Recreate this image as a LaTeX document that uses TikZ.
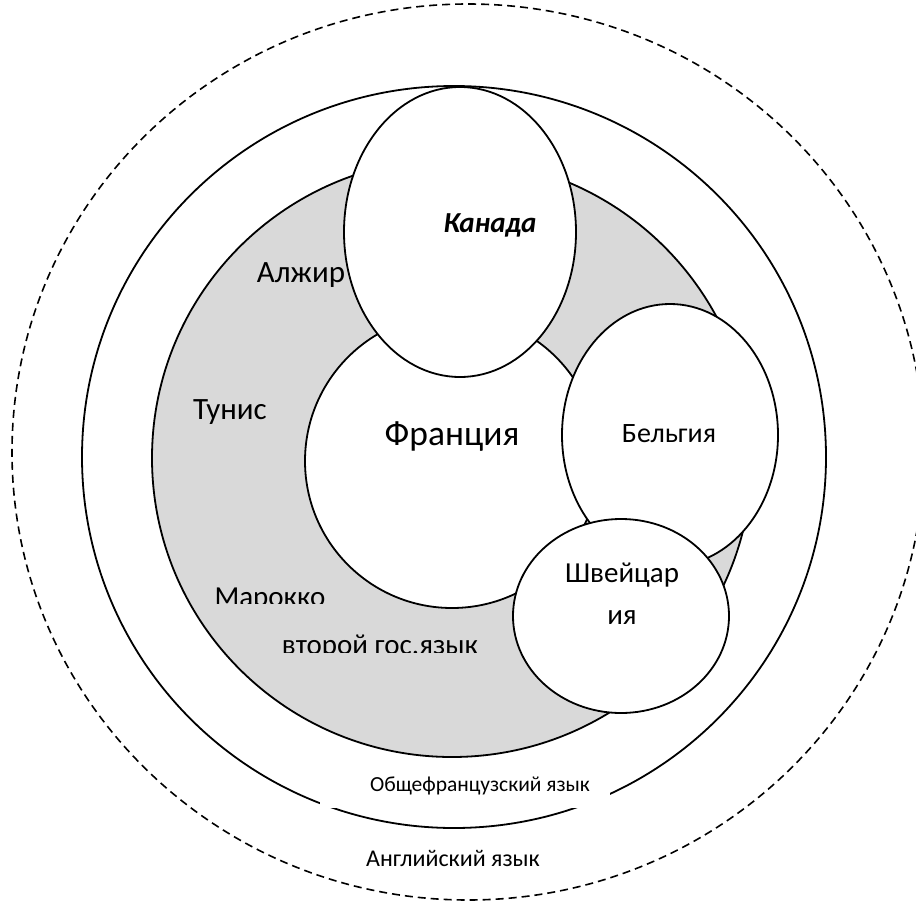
\documentclass[tikz,border=0pt]{standalone}
\usepackage{fontspec}
\setmainfont{Carlito}
\usetikzlibrary{shapes.geometric}
\begin{document}
\begin{tikzpicture}[x=1pt,y=-1pt,
  ring/.style={ellipse,draw=black,line width=1.8pt,inner sep=0pt},
  wring/.style={ring,fill=white},
  lbl/.style={inner sep=0pt,font=\fontsize{29}{31}\selectfont},
  small/.style={inner sep=0pt,font=\fontsize{21.5}{24}\selectfont}]
\useasboundingbox (0,0) rectangle (916,902);
\clip (0,0) rectangle (916,902);
% outer dashed
\node[ellipse,draw=black,line width=1.6pt,dash pattern=on 8pt off 5pt,inner sep=0pt,
  minimum width=912pt,minimum height=896pt] (outer) at (468,452) {};
% solid ring
\node[ring,minimum width=744pt,minimum height=742pt] (mid) at (454,457) {};
% gray ring
\node[ring,fill=black!15,minimum width=600pt,minimum height=598pt] (gray) at (452,458) {};
% France
\node[wring,minimum width=294pt,minimum height=294pt] (fr) at (452,461) {};
% Canada
\node[wring,minimum width=232pt,minimum height=290pt] (ca) at (460,232) {};
% Belgium
\node[wring,minimum width=216pt,minimum height=262pt] (be) at (670,435) {};
% Switzerland
\node[wring,minimum width=216pt,minimum height=194pt] (ch) at (621,616) {};
% labels
\node[lbl,font=\fontsize{29}{31}\selectfont\bfseries\itshape] (tca) at (490,225) {Канада};
\node[lbl,font=\fontsize{31}{33}\selectfont] (talg) at (301,275) {Алжир};
\node[lbl,font=\fontsize{31}{33}\selectfont] (ttun) at (230,412) {Тунис};
\node[lbl,font=\fontsize{35.5}{38}\selectfont] (tfr) at (452,436) {Франция};
\node[lbl,font=\fontsize{28}{30}\selectfont] (tbe) at (669,434) {Бельгия};
\node[lbl,align=center,font=\fontsize{29}{42}\selectfont] (tch) at (622,594) {Швейцар\\ия};
\begin{scope}
\clip (150,560) rectangle (520,603);
\node[lbl,anchor=base] (tmar) at (270,606) {Марокко};
\end{scope}
\begin{scope}
\clip (150,620) rectangle (520,652);
\node[lbl,anchor=base] (tsec) at (380,654) {второй гос.язык};
\end{scope}
\fill[white] (320,766) rectangle (610,808);
\node[small] (tgen) at (480,786) {Общефранцузский язык};
\node[small,font=\fontsize{24}{26}\selectfont] (ten) at (453,858) {Английский язык};
\end{tikzpicture}
\end{document}
